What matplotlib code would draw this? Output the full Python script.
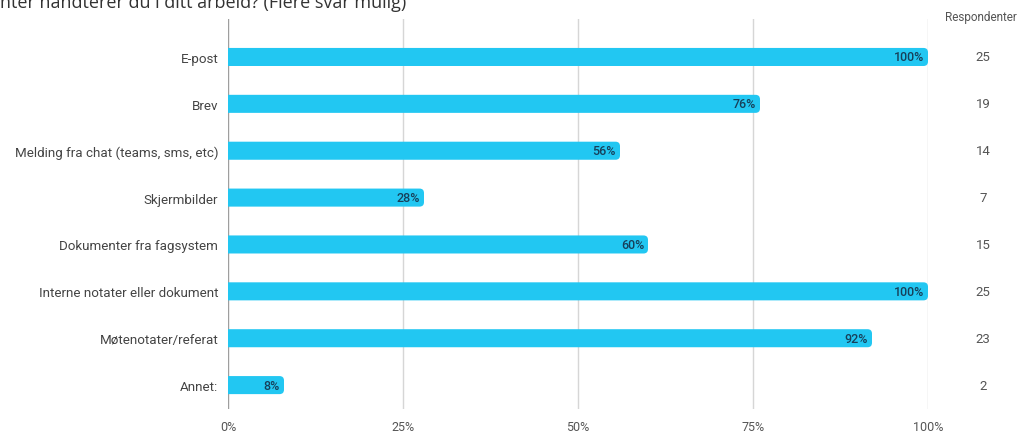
import matplotlib
matplotlib.use("Agg")
import matplotlib.pyplot as plt
import matplotlib.transforms as mtransforms
from matplotlib.patches import FancyBboxPatch

categories = ["E-post", "Brev", "Melding fra chat (teams, sms, etc)", "Skjermbilder",
              "Dokumenter fra fagsystem", "Interne notater eller dokument",
              "Møtenotater/referat", "Annet:"]
percent = [100, 76, 56, 28, 60, 100, 92, 8]
respondents = [25, 19, 14, 7, 15, 25, 23, 2]
xticks = [0, 25, 50, 75, 100]
xticklabels = ["0%", "25%", "50%", "75%", "100%"]
title = "nter håndterer du i ditt arbeid? (Flere svar mulig)"
col_header = "Respondenter"

W, H = 1024, 435
fig = plt.figure(figsize=(W / 100, H / 100), dpi=100)
ax = fig.add_axes([228 / W, 1 - 410 / H, 700 / W, 390 / H])

n = len(categories)
y = list(range(n))
ax.set_xlim(0, 100)
ax.set_ylim(n - 0.49, -0.81)

bar_color = "#22C7F2"
bars = ax.barh(y, percent, height=0.385, color=bar_color)
px_x = 700 / 100
px_y = 390 / (n - 0.49 + 0.81)
r_px = 4.5
ext = 1.5  # extend left so the left rounding is clipped by the axes
for b in bars:
    x0, y0, w, h = b.get_x(), b.get_y(), b.get_width(), b.get_height()
    b.set_visible(False)
    p = FancyBboxPatch((x0 - ext, y0), w + ext, h,
                       boxstyle=f"round,pad=0,rounding_size={r_px / px_x}",
                       mutation_aspect=px_x / px_y,
                       facecolor=bar_color, edgecolor="none", zorder=3)
    ax.add_patch(p)

for yi, v in zip(y, percent):
    ax.text(v - 4 / px_x, yi, f"{v}%", ha="right", va="center",
            fontsize=9, fontfamily="Roboto", fontweight="medium",
            color="#17405a", zorder=4)

for xt in xticks:
    ax.axvline(xt, color="#9e9e9e" if xt == 0 else "#d6d6d6", lw=1, zorder=1)

ax.set_xticks(xticks)
ax.set_xticklabels(xticklabels, fontsize=9, fontfamily="Roboto", color="#555555")
ax.set_yticks(y)
ax.set_yticklabels(categories, fontsize=9.6, fontfamily="Roboto", color="#444444")
ax.tick_params(axis="both", length=0)
ax.tick_params(axis="x", pad=8)
ax.tick_params(axis="y", pad=7)
for s in ax.spines.values():
    s.set_visible(False)

trans = mtransforms.blended_transform_factory(fig.transFigure, ax.transData)
for yi, r in zip(y, respondents):
    ax.text(983 / W, yi, str(r), transform=trans,
            ha="center", va="center", fontsize=9.5, fontfamily="Roboto", color="#555555")

fig.text(981 / W, 1 - 18 / H, col_header, ha="center", va="center",
         fontsize=8.5, fontfamily="Roboto", color="#555555")

fig.text(0.0, 1 - 8 / H, title, ha="left", va="baseline",
         fontsize=13, fontfamily="Open Sans", color="#333333")

fig.savefig("out.png", dpi=100)
